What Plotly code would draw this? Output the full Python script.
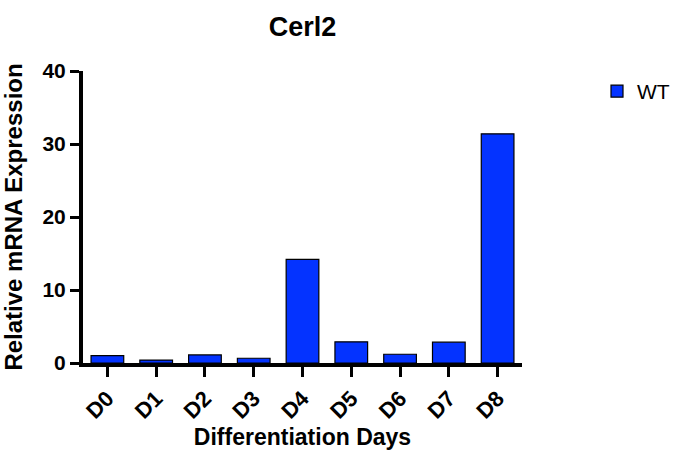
import plotly.graph_objects as go

days = ["D0", "D1", "D2", "D3", "D4", "D5", "D6", "D7", "D8"]
wt_values = [1.0, 0.4, 1.1, 0.65, 14.2, 2.9, 1.2, 2.85, 31.4]
y_ticks = [0, 10, 20, 30, 40]

FONT = "Liberation Sans, Arial, sans-serif"

fig = go.Figure()
fig.add_trace(go.Bar(
    x=days, y=wt_values, name="WT",
    marker=dict(color="#0433FF", line=dict(color="black", width=1.2)),
    width=0.67,
))

fig.update_layout(
    width=675, height=450,
    margin=dict(l=83, r=153, t=71, b=87),
    paper_bgcolor="white", plot_bgcolor="white",
    title=dict(text="<b>Cerl2</b>", x=302.5 / 675, xanchor="center",
               y=1 - 27 / 450, yanchor="middle", automargin=False,
               font=dict(family=FONT, size=27, color="black")),
    font=dict(family=FONT, color="black"),
    showlegend=True,
    legend=dict(xref="container", x=1.0, xanchor="right",
                y=1.0, yanchor="top",
                font=dict(family=FONT, size=21, color="black"),
                bgcolor="rgba(0,0,0,0)", borderwidth=0),
)

fig.update_xaxes(
    range=[-0.5, 8.5], automargin=False,
    showline=True, linecolor="black", linewidth=4,
    ticks="outside", ticklen=10, tickwidth=3, tickcolor="black",
    tickangle=-45,
    tickfont=dict(family=FONT, size=22, color="black"),
    tickprefix="<b>", ticksuffix="</b>",
    title=dict(text="<b>Differentiation Days</b>",
               font=dict(family=FONT, size=23, color="black"), standoff=8),
    showgrid=False, zeroline=False,
)
fig.update_yaxes(
    range=[0, 40], automargin=False,
    tickvals=y_ticks, ticktext=[f"<b>{v}</b>" for v in y_ticks],
    showline=True, linecolor="black", linewidth=4,
    ticks="outside", ticklen=9, tickwidth=3, tickcolor="black",
    tickfont=dict(family=FONT, size=21, color="black"),
    title=dict(text="<b>Relative mRNA Expression</b>",
               font=dict(family=FONT, size=24, color="black"), standoff=14),
    showgrid=False, zeroline=False,
)

fig.write_html("out.html", config={"displayModeBar": False},
               post_script="document.body.style.margin='0px';")
